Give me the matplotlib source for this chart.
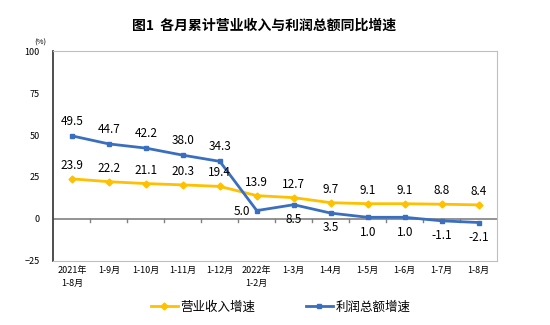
import matplotlib.pyplot as plt
import numpy as np

plt.rcParams['font.family'] = ['Noto Sans CJK SC', 'DejaVu Sans']

categories = ["2021年\n1-8月", "1-9月", "1-10月", "1-11月", "1-12月", "2022年\n1-2月",
              "1-3月", "1-4月", "1-5月", "1-6月", "1-7月", "1-8月"]
revenue = [23.9, 22.2, 21.1, 20.3, 19.4, 13.9, 12.7, 9.7, 9.1, 9.1, 8.8, 8.4]
profit = [49.5, 44.7, 42.2, 38.0, 34.3, 5.0, 8.5, 3.5, 1.0, 1.0, -1.1, -2.1]
# where the profit label sits: 'up' above the point, 'down' below, 'left' beside
profit_pos = ['up', 'up', 'up', 'up', 'up', 'left', 'down', 'down', 'down', 'down', 'down', 'down']

yellow = '#FFC000'
blue = '#3A6FC0'

fig = plt.figure(figsize=(5.5, 3.25), dpi=100)
ax = fig.add_axes([0.097, 0.197, 0.807, 0.646])

x = np.arange(len(categories))
ax.plot(x, revenue, color=yellow, lw=2, marker='D', ms=3.5, label='营业收入增速')
ax.plot(x, profit, color=blue, lw=2, marker='s', ms=3.5, label='利润总额增速')

for i, v in enumerate(revenue):
    ax.annotate(f"{v:.1f}", (i, v), xytext=(0, 5), textcoords='offset points',
                ha='center', va='bottom', fontsize=8.5)
for i, v in enumerate(profit):
    if profit_pos[i] == 'up':
        ax.annotate(f"{v:.1f}", (i, v), xytext=(0, 6), textcoords='offset points',
                    ha='center', va='bottom', fontsize=8.5)
    elif profit_pos[i] == 'left':
        ax.annotate(f"{v:.1f}", (i, v), xytext=(-5, -1), textcoords='offset points',
                    ha='right', va='center', fontsize=8.5)
    else:
        ax.annotate(f"{v:.1f}", (i, v), xytext=(0, -6), textcoords='offset points',
                    ha='center', va='top', fontsize=8.5)

ax.set_xlim(-0.5, len(categories) - 0.5)
ax.set_ylim(-25, 100)
ax.set_yticks([-25, 0, 25, 50, 75, 100])
ax.tick_params(axis='y', length=0, labelsize=6.5, pad=10)
ax.set_xticks([])

# zero line with category boundary ticks
ax.axhline(0, color='#808080', lw=1.2, zorder=1)
for b in np.arange(0.5, len(categories) - 0.5, 1):
    ax.plot([b, b], [0, -1.8], color='#808080', lw=1, zorder=1)

for i, lab in enumerate(categories):
    ax.text(i, -28, lab, ha='center', va='top', fontsize=6.5, linespacing=1.6)

for s in ['top', 'right', 'bottom']:
    ax.spines[s].set_color('#BFBFBF')
ax.spines['left'].set_color('#404040')
ax.spines['left'].set_linewidth(1.3)

fig.text(0.062, 0.862, "(%)", fontsize=5.5)
fig.text(0.48, 0.92, "图1  各月累计营业收入与利润总额同比增速", ha='center', va='center',
         fontsize=10, fontweight='bold')

fig.legend(loc='lower center', bbox_to_anchor=(0.51, 0.0), ncol=2, frameon=False,
           fontsize=9, columnspacing=4, handlelength=2.2, handletextpad=0.2)

fig.savefig('out.png', dpi=100, facecolor='white')
